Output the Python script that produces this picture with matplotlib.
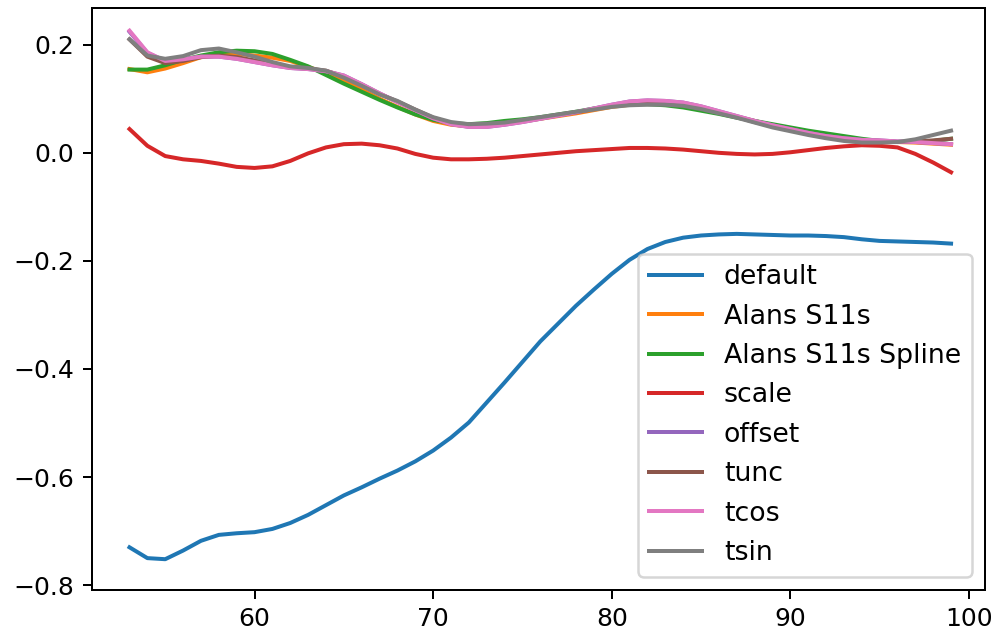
import matplotlib
matplotlib.use('Agg')
import matplotlib.pyplot as plt

# frequency grid
freq = list(range(53, 100))

# one list per model
default = [-0.730, -0.750, -0.752, -0.736, -0.718, -0.707, -0.704, -0.702, -0.696, -0.685,
           -0.670, -0.652, -0.634, -0.619, -0.603, -0.588, -0.571, -0.551, -0.527, -0.499,
           -0.462, -0.425, -0.387, -0.349, -0.316, -0.283, -0.253, -0.224, -0.198, -0.178,
           -0.165, -0.157, -0.153, -0.151, -0.150, -0.151, -0.152, -0.153, -0.153, -0.154,
           -0.156, -0.160, -0.163, -0.164, -0.165, -0.166, -0.168]
alans = [0.155, 0.149, 0.156, 0.166, 0.177, 0.185, 0.183, 0.180, 0.176, 0.170,
         0.159, 0.148, 0.133, 0.117, 0.100, 0.085, 0.071, 0.059, 0.052, 0.049,
         0.050, 0.053, 0.058, 0.063, 0.068, 0.073, 0.079, 0.085, 0.089, 0.091,
         0.090, 0.087, 0.081, 0.074, 0.067, 0.059, 0.051, 0.044, 0.038, 0.032,
         0.027, 0.024, 0.022, 0.020, 0.019, 0.017, 0.015]
alans_spline = [0.154, 0.154, 0.162, 0.172, 0.180, 0.186, 0.189, 0.188, 0.183, 0.172,
                0.160, 0.144, 0.128, 0.113, 0.098, 0.084, 0.071, 0.061, 0.055, 0.053,
                0.055, 0.059, 0.062, 0.066, 0.071, 0.076, 0.082, 0.087, 0.090, 0.090,
                0.088, 0.084, 0.078, 0.072, 0.065, 0.059, 0.053, 0.047, 0.041, 0.036,
                0.031, 0.026, 0.022, 0.020, 0.020, 0.022, 0.026]
scale = [0.044, 0.013, -0.006, -0.012, -0.015, -0.020, -0.026, -0.028, -0.025, -0.015,
         -0.001, 0.010, 0.016, 0.017, 0.014, 0.008, -0.002, -0.009, -0.012, -0.012,
         -0.011, -0.009, -0.006, -0.003, 0.000, 0.003, 0.005, 0.007, 0.009, 0.009,
         0.008, 0.006, 0.003, 0.000, -0.002, -0.003, -0.002, 0.001, 0.005, 0.009,
         0.012, 0.014, 0.013, 0.010, -0.002, -0.018, -0.036]
offset = [0.224, 0.185, 0.170, 0.173, 0.178, 0.178, 0.174, 0.168, 0.162, 0.157,
          0.155, 0.151, 0.143, 0.127, 0.110, 0.094, 0.079, 0.064, 0.053, 0.048,
          0.048, 0.052, 0.057, 0.063, 0.069, 0.075, 0.082, 0.089, 0.095, 0.097,
          0.096, 0.093, 0.086, 0.077, 0.068, 0.059, 0.051, 0.044, 0.037, 0.031,
          0.027, 0.024, 0.023, 0.021, 0.020, 0.018, 0.016]
tunc = [0.210, 0.178, 0.166, 0.170, 0.177, 0.180, 0.177, 0.171, 0.164, 0.158,
        0.156, 0.152, 0.141, 0.126, 0.109, 0.095, 0.080, 0.065, 0.055, 0.050,
        0.051, 0.054, 0.059, 0.064, 0.070, 0.075, 0.081, 0.087, 0.092, 0.093,
        0.092, 0.090, 0.084, 0.075, 0.066, 0.057, 0.049, 0.042, 0.035, 0.029,
        0.025, 0.022, 0.021, 0.020, 0.021, 0.023, 0.026]
tcos = [0.226, 0.186, 0.170, 0.173, 0.178, 0.178, 0.174, 0.168, 0.162, 0.157,
        0.155, 0.151, 0.143, 0.127, 0.110, 0.094, 0.079, 0.064, 0.053, 0.048,
        0.048, 0.052, 0.057, 0.063, 0.069, 0.075, 0.082, 0.089, 0.095, 0.097,
        0.096, 0.093, 0.086, 0.077, 0.068, 0.059, 0.051, 0.044, 0.037, 0.031,
        0.027, 0.024, 0.023, 0.021, 0.020, 0.018, 0.016]
tsin = [0.210, 0.180, 0.174, 0.179, 0.190, 0.193, 0.186, 0.178, 0.168, 0.160,
        0.157, 0.152, 0.139, 0.124, 0.108, 0.096, 0.080, 0.066, 0.057, 0.053,
        0.054, 0.056, 0.061, 0.066, 0.071, 0.076, 0.080, 0.085, 0.088, 0.089,
        0.089, 0.087, 0.081, 0.073, 0.065, 0.056, 0.047, 0.040, 0.033, 0.027,
        0.022, 0.019, 0.019, 0.020, 0.025, 0.033, 0.041]

labels = ['default', 'Alans S11s', 'Alans S11s Spline', 'scale',
          'offset', 'tunc', 'tcos', 'tsin']
series = [default, alans, alans_spline, scale, offset, tunc, tcos, tsin]

DPI = 180
fig = plt.figure(figsize=(993 / DPI, 632 / DPI), dpi=DPI)
ax = fig.add_subplot(111)
fig.subplots_adjust(left=92 / 993, right=985 / 993, bottom=1 - 590 / 632, top=1 - 8 / 632)

for ys, lab in zip(series, labels):
    ax.plot(freq, ys, label=lab, lw=1.6)

ax.set_xlim(50.9, 100.9)
ax.set_ylim(-0.809, 0.268)
ax.legend(loc='lower right', fontsize=10.7)

fig.savefig('out.png', dpi=DPI)
